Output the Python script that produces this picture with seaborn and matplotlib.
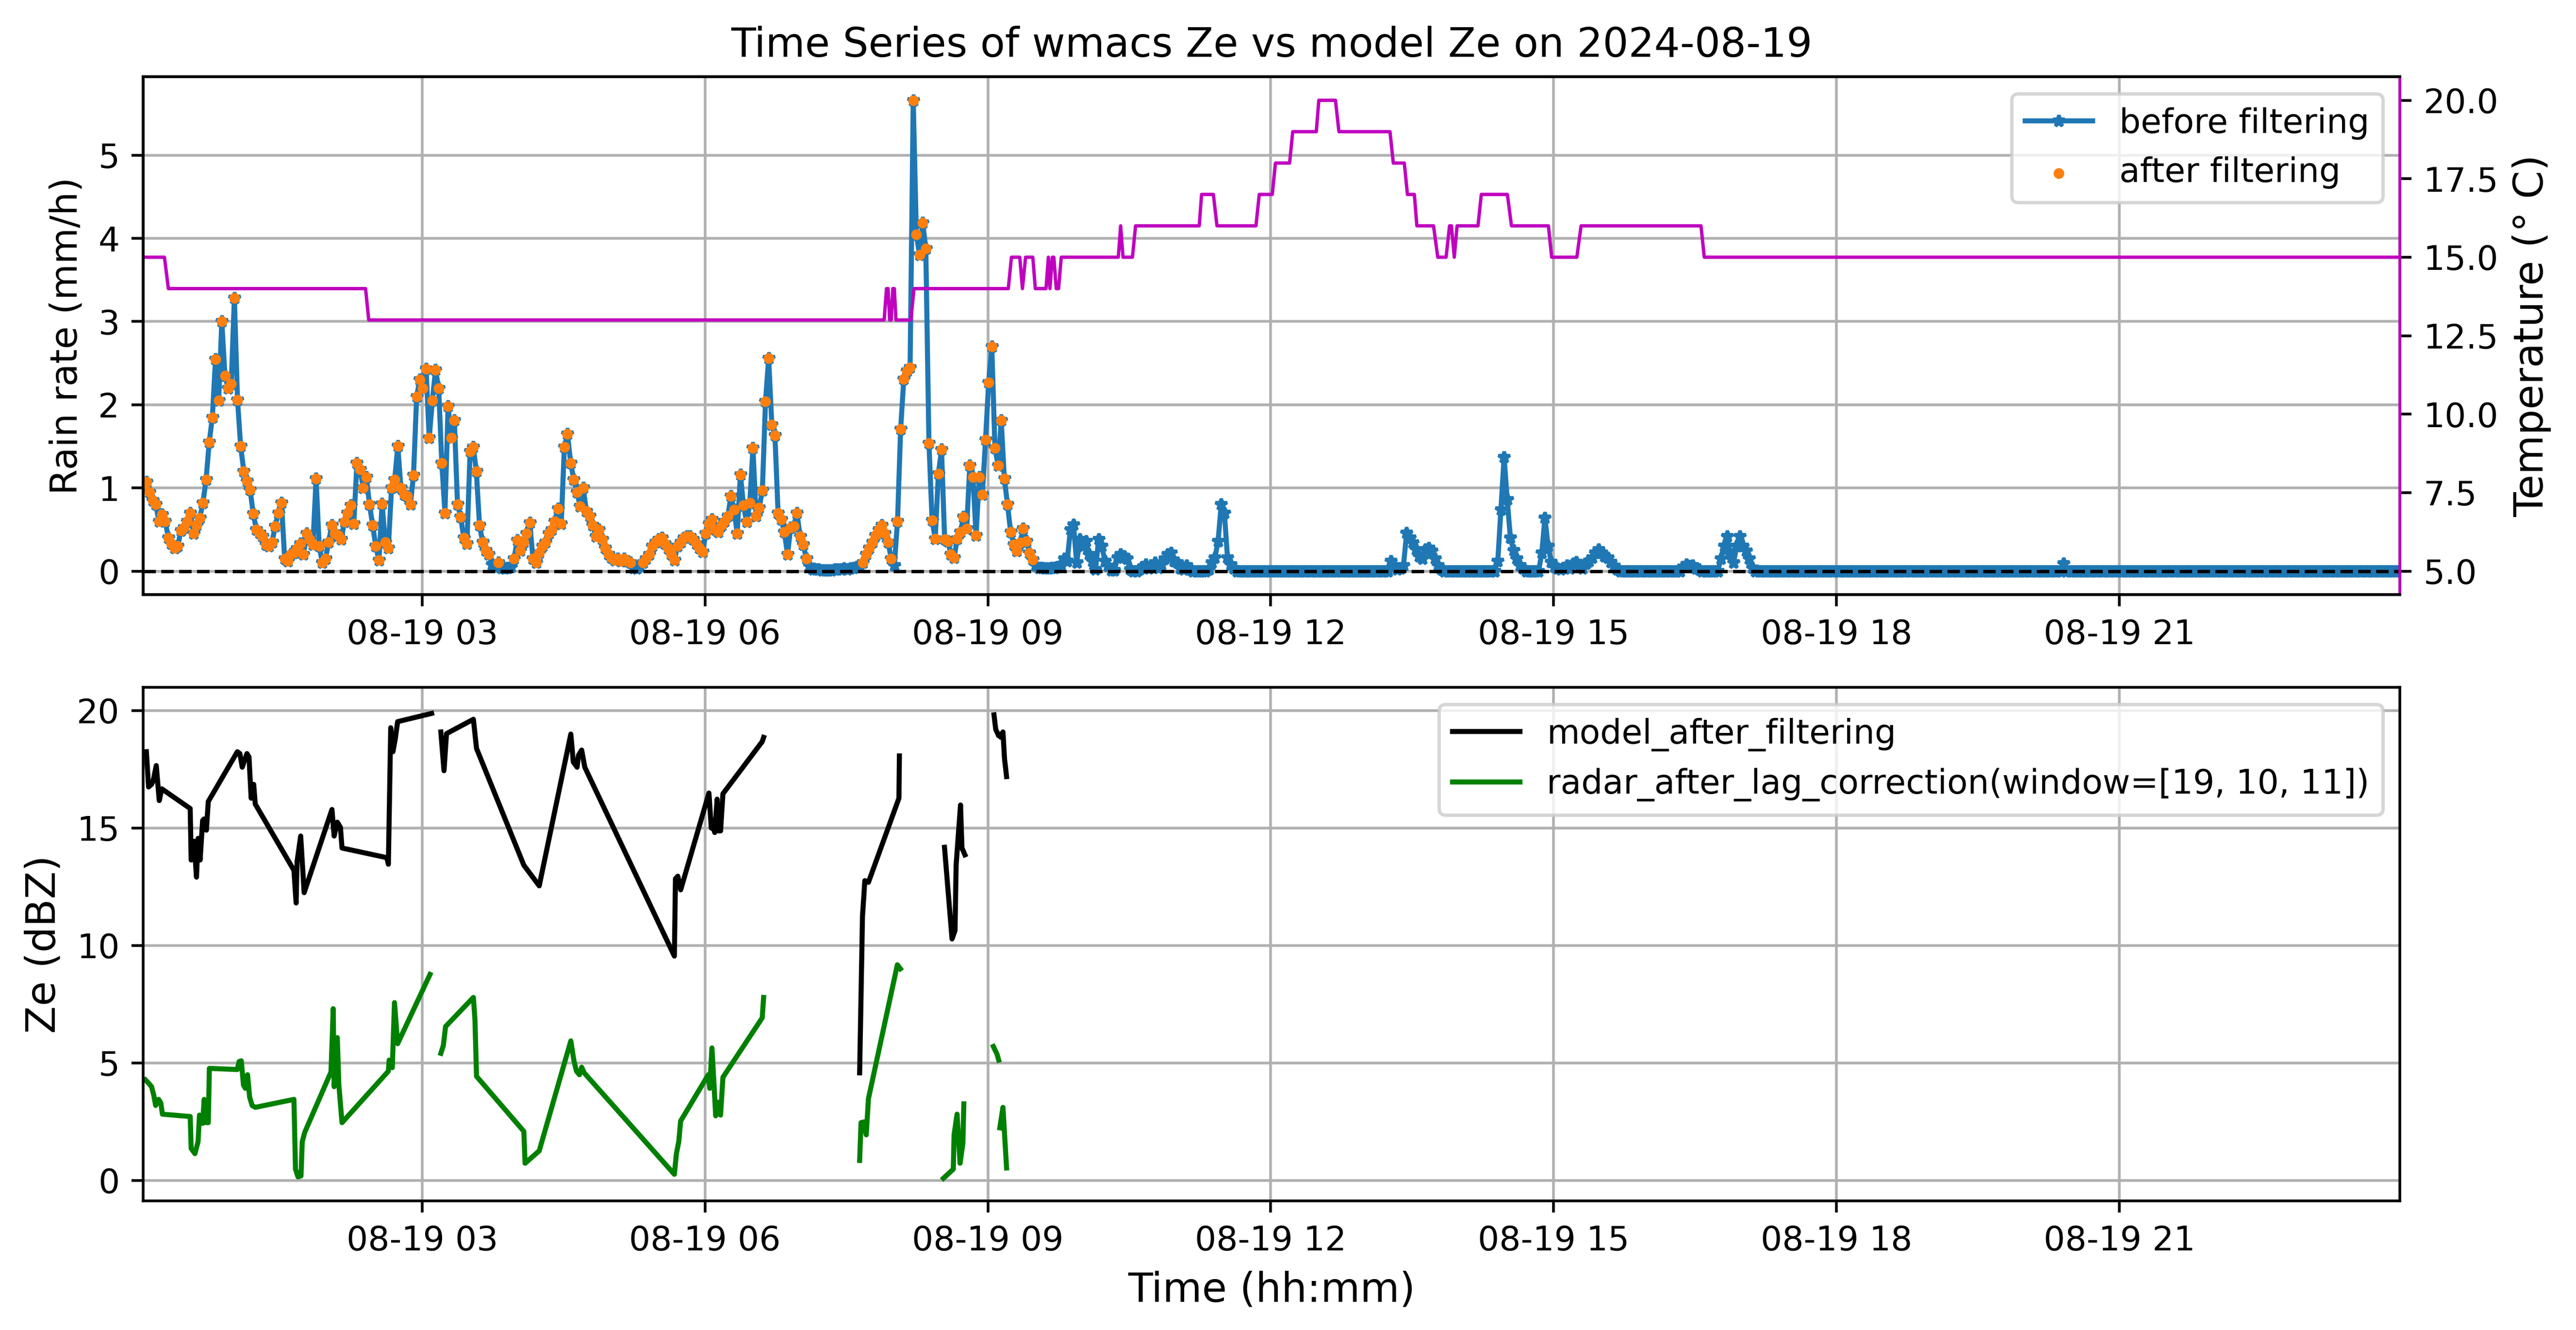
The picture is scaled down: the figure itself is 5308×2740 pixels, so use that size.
import numpy as np
import pandas as pd
import matplotlib
matplotlib.use("Agg")
import matplotlib.pyplot as plt
from matplotlib.lines import Line2D
import seaborn as sns

nan = np.nan
day = pd.Timestamp("2024-08-19")

# rain rate (mm/h), one sample every 2 min from 00:02:30, one row per hour
rain_start_min = 2.5
rain_step_min = 2
rain_rate = [
    1.05, 1.07, 0.95, 0.85, 0.80, 0.60, 0.68, 0.60, 0.40, 0.33, 0.28, 0.30, 0.49, 0.52, 0.60, 0.70, 0.45, 0.55, 0.64, 0.82, 1.10, 1.55, 1.85, 2.55, 2.05, 3.00, 2.35, 2.20, 2.25, 3.28,
    2.06, 1.50, 1.20, 1.08, 0.98, 0.69, 0.50, 0.46, 0.42, 0.32, 0.30, 0.35, 0.54, 0.70, 0.82, 0.15, 0.12, 0.20, 0.22, 0.27, 0.33, 0.20, 0.45, 0.38, 0.32, 1.11, 0.30, 0.10, 0.15, 0.35,
    0.55, 0.45, 0.43, 0.38, 0.59, 0.70, 0.79, 0.57, 1.30, 1.22, 1.00, 1.13, 0.80, 0.55, 0.30, 0.13, 0.81, 0.35, 0.28, 1.00, 1.10, 1.50, 1.00, 0.92, 0.90, 0.80, 1.15, 2.10, 2.30, 2.20,
    2.43, 1.60, 2.05, 2.42, 2.20, 1.30, 0.70, 1.98, 1.60, 1.81, 0.80, 0.65, 0.40, 0.33, 1.44, 1.49, 1.20, 0.55, 0.35, 0.25, 0.20, 0.08, 0.05, 0.10, 0.04, 0.03, 0.04, 0.05, 0.15, 0.37,
    0.25, 0.35, 0.45, 0.58, 0.15, 0.10, 0.22, 0.30, 0.35, 0.45, 0.50, 0.60, 0.75, 0.57, 1.49, 1.65, 1.30, 1.10, 0.95, 0.78, 1.00, 0.72, 0.66, 0.55, 0.42, 0.50, 0.38, 0.28, 0.20, 0.16,
    0.13, 0.15, 0.12, 0.15, 0.12, 0.10, 0.04, 0.03, 0.06, 0.10, 0.15, 0.20, 0.30, 0.35, 0.38, 0.40, 0.33, 0.27, 0.20, 0.13, 0.30, 0.35, 0.40, 0.42, 0.42, 0.38, 0.33, 0.28, 0.23, 0.45,
    0.57, 0.62, 0.50, 0.47, 0.55, 0.60, 0.66, 0.90, 0.74, 0.45, 1.16, 0.79, 0.59, 0.82, 1.48, 0.66, 0.76, 0.97, 2.04, 2.56, 1.76, 1.63, 0.70, 0.62, 0.47, 0.20, 0.52, 0.54, 0.70, 0.42,
    0.32, 0.15, 0.06, 0.02, 0.02, 0.02, 0.01, 0.01, 0.01, 0.01, 0.02, 0.02, 0.02, 0.03, 0.02, 0.03, 0.04, 0.05, 0.05, 0.10, 0.20, 0.28, 0.35, 0.43, 0.50, 0.55, 0.45, 0.35, 0.15, 0.07,
    0.60, 1.71, 2.31, 2.41, 2.45, 5.66, 4.05, 3.80, 4.19, 3.88, 1.54, 0.61, 0.39, 1.17, 1.46, 0.38, 0.36, 0.20, 0.16, 0.39, 0.47, 0.65, 0.51, 1.27, 1.13, 0.43, 1.13, 0.92, 1.58, 2.27,
    2.70, 1.48, 1.27, 1.81, 1.11, 0.80, 0.47, 0.32, 0.24, 0.34, 0.51, 0.36, 0.22, 0.14, 0.07, 0.04, 0.04, 0.03, 0.03, 0.04, 0.04, 0.05, 0.08, 0.15, 0.12, 0.50, 0.56, 0.10, 0.38, 0.30,
    0.36, 0.20, 0.12, 0.02, 0.38, 0.30, 0.12, 0.06, 0.01, 0.01, 0.16, 0.20, 0.18, 0.15, 0.02, 0, 0, 0.02, 0.05, 0.08, 0.03, 0.06, 0.10, 0.04, 0.08, 0.15, 0.20, 0.22, 0.12, 0.10,
    0.03, 0.02, 0.07, 0.02, 0, 0, 0, 0, 0, 0.02, 0.10, 0.16, 0.36, 0.80, 0.70, 0.16, 0.08, 0.03, 0, 0, 0, 0, 0, 0, 0, 0, 0, 0, 0, 0,
    0, 0, 0, 0, 0, 0, 0, 0, 0, 0, 0, 0, 0, 0, 0, 0, 0, 0, 0, 0, 0, 0, 0, 0, 0, 0, 0, 0, 0, 0,
    0, 0, 0, 0, 0, 0, 0, 0.12, 0.07, 0.02, 0.03, 0.07, 0.46, 0.40, 0.34, 0.26, 0.18, 0.15, 0.26, 0.28, 0.24, 0.15, 0.07, 0.02, 0, 0, 0, 0, 0, 0,
    0, 0, 0, 0, 0, 0, 0, 0, 0, 0, 0, 0.12, 0.74, 1.37, 0.86, 0.40, 0.25, 0.15, 0.07, 0.03, 0, 0, 0, 0, 0, 0.22, 0.64, 0.30, 0.11, 0.05,
    0.03, 0.02, 0.04, 0.07, 0.03, 0.09, 0.11, 0.05, 0.03, 0.09, 0.12, 0.16, 0.22, 0.26, 0.22, 0.18, 0.16, 0.11, 0.06, 0.02, 0, 0, 0, 0, 0, 0, 0, 0, 0, 0,
    0, 0, 0, 0, 0, 0, 0, 0, 0, 0, 0.05, 0.08, 0.06, 0.07, 0.03, 0.02, 0, 0, 0, 0, 0, 0, 0.15, 0.30, 0.42, 0.20, 0.10, 0.30, 0.42, 0.30,
    0.24, 0.15, 0.04, 0, 0, 0, 0, 0, 0, 0, 0, 0, 0, 0, 0, 0, 0, 0, 0, 0, 0, 0, 0, 0, 0, 0, 0, 0, 0, 0,
    0, 0, 0, 0, 0, 0, 0, 0, 0, 0, 0, 0, 0, 0, 0, 0, 0, 0, 0, 0, 0, 0, 0, 0, 0, 0, 0, 0, 0, 0,
    0, 0, 0, 0, 0, 0, 0, 0, 0, 0, 0, 0, 0, 0, 0, 0, 0, 0, 0, 0, 0, 0, 0, 0, 0, 0, 0, 0, 0, 0,
    0, 0, 0, 0, 0, 0, 0, 0, 0, 0, 0, 0.09, 0, 0, 0, 0, 0, 0, 0, 0, 0, 0, 0, 0, 0, 0, 0, 0, 0, 0,
    0, 0, 0, 0, 0, 0, 0, 0, 0, 0, 0, 0, 0, 0, 0, 0, 0, 0, 0, 0, 0, 0, 0, 0, 0, 0, 0, 0, 0, 0,
    0, 0, 0, 0, 0, 0, 0, 0, 0, 0, 0, 0, 0, 0, 0, 0, 0, 0, 0, 0, 0, 0, 0, 0, 0, 0, 0, 0, 0, 0,
    0, 0, 0, 0, 0, 0, 0, 0, 0, 0, 0, 0, 0, 0, 0, 0, 0, 0, 0, 0, 0, 0, 0, 0, 0, 0, 0, 0, 0,
]
# filtering keeps the wet morning only
filter_end_min = 570
filter_min_rate = 0.1

# temperature (deg C) breakpoints, minutes after midnight
temp_min = [2.5, 16, 18.5, 144, 146, 474, 475.5, 476.5, 477.5, 478.5, 479.5, 480.5, 481.5, 491, 493,
            553, 555, 560.3, 562, 564, 568.6, 570.2, 577, 578.5, 579.5, 581, 582, 583.5, 585, 586.7,
            623, 624.5, 626, 632, 634, 674.5, 676, 683.5, 685.8, 710.6, 712.7, 721, 723, 732, 734,
            749, 750.6, 761.2, 763.4, 795.9, 798, 805, 807, 811.4, 813, 823.6, 826.3, 831.6, 833.8,
            835, 836.8, 838.6, 851.9, 854, 870.6, 873.2, 896.7, 898.8, 914.8, 917.5, 993.8, 995.9, 1438.5]
temp_val = [15, 15, 14, 14, 13, 13, 14, 14, 13, 13, 14, 14, 13, 13, 14,
            14, 15, 15, 14, 15, 15, 14, 14, 15, 14, 15, 15, 14, 14, 15,
            15, 16, 15, 15, 16, 16, 17, 17, 16, 16, 17, 17, 18, 18, 19,
            19, 20, 20, 19, 19, 18, 18, 17, 17, 16, 16, 15, 15, 16,
            16, 15, 16, 16, 17, 17, 16, 16, 15, 15, 16, 16, 15, 15]

# model Ze (dBZ), nan = gap
model_min = [4.5, 5.9, 7.8, 8.8, 10.8, 12.7, 14.3, 32.4, 33, 34.8, 36.4, 37.4, 38.7, 40.3, 41.3, 42.7, 43.9,
             62.4, 64, 65.5, 68.5, 69.8, 71.2, 72.8, 73.8, 98.4, 99.8, 100.4, 102.7, 104.9,
             122.6, 124, 126, 128, 129, 157.5, 158.5, 160, 161.4, 162.8, 164.4, 186, nan,
             191.9, 193.9, 195.5, 212.6, 214.6, 244.7, 254.5, 274.6, 276.2, 278.6, 279.5, 281.5, 283.5,
             340.5, 341.2, 342.7, 344.5, 362.5, 364, 365.5, 366.2, 367.7, 368.6, 369.9, 371.4, 396.4, 397.3, nan,
             458.4, 460.2, 461.7, 464, 483.4, 483.7, nan,
             512.4, 517.2, 519.1, 519.8, 520.9, 522.6, 523.5, 525.4, nan,
             543.9, 545, 546.4, nan,
             547.6, 549.6, 550.6, 551.9]
model_ze = [18.25, 16.75, 16.86, 17.0, 17.66, 16.17, 16.67, 15.83, 13.64, 14.44, 12.91, 14.56, 13.64, 15.32, 15.39, 14.91, 16.13,
            18.25, 18.17, 17.59, 18.17, 18.03, 16.27, 16.86, 16.02, 13.20, 11.81, 13.57, 14.66, 12.25,
            15.79, 14.66, 15.25, 15.03, 14.15, 13.74, 13.46, 19.27, 18.25, 18.76, 19.53, 19.88, nan,
            19.09, 17.44, 19.02, 19.63, 18.39, 13.42, 12.54, 19.0, 17.81, 17.59, 18.10, 18.32, 17.59,
            9.55, 12.84, 12.95, 12.37, 16.49, 15.0, 14.96, 14.81, 16.23, 14.88, 14.88, 16.46, 18.68, 18.86, nan,
            4.58, 11.23, 12.76, 12.69, 16.27, 18.07, nan,
            14.18, 10.28, 10.64, 13.42, 14.44, 15.98, 14.15, 13.86, nan,
            19.82, 19.20, 19.0, nan,
            18.90, 19.09, 17.95, 17.19]

# radar Ze after lag correction (dBZ), nan = gap
radar_min = [3.9, 5.9, 7.8, 9.2, 10.4, 12.3, 13.7, 14.7, 32.4, 33, 35.4, 37.4, 38.3, 40.3, 41.3, 42.3, 43.9, 44.6,
             62.4, 63.5, 64.9, 66.3, 67.5, 68.9, 70.2, 71.8, 73.8, 98.4, 99.4, 101, 102.9, 103.7, 105.3,
             122, 123.4, 124, 126, 127, 129, 158.5, 159, 161, 162.4, 164.4, 185, nan,
             191.9, 193.5, 194.9, 212.6, 213.6, 214.6, 244.7, 245.5, 254.5, 274.6, 276.6, 278.2, 280.1, 281.5, 283.1,
             340.5, 341.8, 343.3, 344.5, 362.1, 363, 364.4, 365.5, 366.8, 368.1, 369.9, 371.4, 396.4, 397.3, nan,
             458.4, 459.3, 461.2, 462.6, 464, 482.4, 484.3, nan,
             511.7, 518, 518.5, 520.4, 522.3, 524.1, 524.7, nan,
             543.5, 545.8, 546.9, nan,
             547.6, 549.6, 551.9]
radar_ze = [4.28, 4.14, 3.99, 3.63, 3.19, 3.45, 3.30, 2.82, 2.72, 1.36, 1.14, 1.65, 2.78, 2.43, 3.45, 2.46, 2.46, 4.77,
            4.72, 5.06, 5.09, 4.06, 3.92, 4.50, 3.55, 3.19, 3.11, 3.45, 0.48, 0.15, 0.19, 1.65, 2.05,
            4.62, 7.31, 3.99, 6.08, 4.06, 2.46, 4.65, 5.12, 4.80, 7.57, 5.82, 8.77, nan,
            5.41, 5.75, 6.55, 7.79, 6.84, 4.43, 2.09, 0.73, 1.26, 5.94, 5.09, 4.65, 4.50, 4.82, 4.58,
            0.26, 1.14, 1.65, 2.53, 4.50, 3.92, 5.64, 4.36, 2.75, 3.33, 2.78, 4.39, 6.92, 7.79, nan,
            0.85, 2.46, 2.49, 1.94, 3.48, 9.18, 9.01, nan,
            0.09, 0.48, 1.94, 2.82, 0.73, 1.58, 3.26, nan,
            5.70, 5.38, 5.12, nan,
            2.24, 3.11, 0.53]


def to_time(minutes):
    return day + pd.to_timedelta(np.asarray(minutes, dtype=float), unit="min")


def segments(minutes, values):
    # split a series with nan gaps into numbered pieces
    df = pd.DataFrame({"minute": minutes, "ze": values})
    df["seg"] = df["ze"].isna().cumsum()
    df = df.dropna()
    df["time"] = to_time(df["minute"])
    return df


rain_minutes = rain_start_min + rain_step_min * np.arange(len(rain_rate))
rain_df = pd.DataFrame({"minute": rain_minutes, "rain": rain_rate})
rain_df["time"] = to_time(rain_df["minute"])
after_df = rain_df[(rain_df["minute"] <= filter_end_min) & (rain_df["rain"] >= filter_min_rate)]

temp_df = pd.DataFrame({"time": to_time(temp_min), "temp": temp_val})
model_df = segments(model_min, model_ze)
radar_df = segments(radar_min, radar_ze)

fig = plt.figure(figsize=(10.616, 5.48), dpi=500)
ax1 = fig.add_axes([0.0556, 0.5529, 0.876, 0.3894])
ax3 = fig.add_axes([0.0556, 0.0971, 0.876, 0.3861])

# rain rate
sns.lineplot(data=rain_df, x="time", y="rain", color="C0", linewidth=1.5, marker="*",
             markersize=3.5, markeredgecolor="C0", markeredgewidth=1, estimator=None, ax=ax1)
sns.scatterplot(data=after_df, x="time", y="rain", color="C1", s=10, linewidth=0, zorder=3, ax=ax1)
ax1.axhline(0, color="k", linestyle="--", linewidth=1)
ax1.set_ylim(-0.283, 5.943)
ax1.grid(True)
ax1.set_xlabel("")
ax1.set_ylabel("Rain rate (mm/h)", fontsize=11)
ax1.set_title("Time Series of wmacs Ze vs model Ze on 2024-08-19", fontsize=12)
ax1.legend([ax1.lines[0], ax1.collections[0]], ["before filtering", "after filtering"], loc="upper right")

# temperature on the right axis
ax2 = ax1.twinx()
sns.lineplot(data=temp_df, x="time", y="temp", color="m", linewidth=1, estimator=None, ax=ax2)
ax2.set_ylim(4.25, 20.75)
ax2.set_ylabel("Temperature (° C)", fontsize=12)
ax2.spines["right"].set_color("m")

# Ze
sns.lineplot(data=model_df, x="time", y="ze", units="seg", estimator=None, color="k", linewidth=1.5, ax=ax3)
sns.lineplot(data=radar_df, x="time", y="ze", units="seg", estimator=None, color="g", linewidth=1.5, ax=ax3)
ax3.set_ylim(-0.87, 20.99)
ax3.grid(True)
ax3.set_xlabel("Time (hh:mm)", fontsize=12)
ax3.set_ylabel("Ze (dBZ)", fontsize=12)
ax3.legend([Line2D([], [], color="k", linewidth=1.5), Line2D([], [], color="g", linewidth=1.5)],
           ["model_after_filtering", "radar_after_lag_correction(window=[19, 10, 11])"], loc="upper right")

xlim = (rain_df["time"].iloc[0], rain_df["time"].iloc[-1])
ax1.set_xlim(xlim)
ax3.set_xlim(xlim)

fig.savefig("out.png", dpi=500)
